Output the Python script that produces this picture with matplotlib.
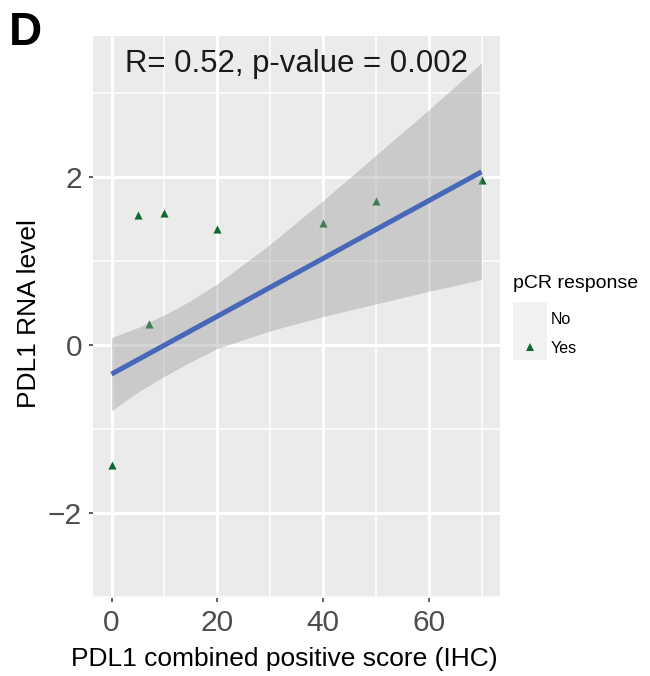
import numpy as np
import matplotlib
matplotlib.use("Agg")
import matplotlib.pyplot as plt
from matplotlib.patches import Rectangle
from matplotlib.lines import Line2D

plt.rcParams["font.family"] = ["Liberation Sans", "DejaVu Sans"]

# visible "Yes" samples (the "No" group is drawn without a symbol)
cps_yes = [0, 5, 7, 10, 20, 40, 50, 70]
rna_yes = [-1.43, 1.55, 0.25, 1.57, 1.38, 1.45, 1.71, 1.96]

# fitted line and its 95% band
fit_x = [0, 70]
fit_y = [-0.345, 2.063]
band_x = [0, 5, 10, 15, 20, 30, 40, 50, 60, 70]
band_lo = [-0.78, -0.56, -0.37, -0.20, -0.04, 0.17, 0.34, 0.49, 0.64, 0.78]
band_hi = [0.09, 0.21, 0.36, 0.53, 0.73, 1.20, 1.72, 2.26, 2.80, 3.36]

xticks = [0, 20, 40, 60]
yticks = [-2, 0, 2]
annot = "R= 0.52, p-value = 0.002"

W, H = 650, 676
fig = plt.figure(figsize=(W / 100, H / 100), dpi=100)

def fx(px): return px / W
def fy(py): return 1 - py / H

# panel in pixels: left 93, right 500, top 36, bottom 598
ax = fig.add_axes([fx(93), fy(598), (500 - 93) / W, (598 - 36) / H])
ax.set_facecolor("#EBEBEB")
for s in ax.spines.values():
    s.set_visible(False)

ax.set_xlim(-3.5, 73.5)
ax.set_ylim(-3.01, 3.68)
ax.set_xticks(xticks)
ax.set_yticks(yticks)
ax.set_xticks([10, 30, 50, 70], minor=True)
ax.set_yticks([-3, -1, 1, 3], minor=True)
ax.set_yticklabels(["\u22122", "0", "2"])
ax.grid(which="major", color="white", lw=2.2, zorder=0)
ax.grid(which="minor", color="white", lw=1.1, zorder=0)
ax.set_axisbelow(True)
ax.tick_params(which="major", length=3, width=1.1, color="#333333",
               labelsize=21.5, labelcolor="#4D4D4D", pad=5)
ax.tick_params(which="minor", length=0)

ax.scatter(cps_yes, rna_yes, marker="^", s=34, color="#0D6A2F",
           linewidths=0, zorder=2)
ax.fill_between(band_x, band_lo, band_hi, color="#999999", alpha=0.4,
                linewidth=0, zorder=3)
ax.plot(fit_x, fit_y, color="#4767B9", lw=3.6, solid_capstyle="butt", zorder=4)

ax.text(35, 3.25, annot, ha="center", va="baseline", fontsize=22.4,
        color="#1A1A1A", zorder=5)

fig.text(fx(284), fy(666), "PDL1 combined positive score (IHC)",
         ha="center", va="baseline", fontsize=19, color="black")
fig.text(fx(41), fy(314), "PDL1 RNA level", rotation=90,
         ha="right", va="center", fontsize=19, color="black")
fig.text(fx(9), fy(45), "D", ha="left", va="baseline", fontsize=33,
         fontweight="bold", color="black")

# legend
fig.text(fx(513), fy(288), "pCR response", ha="left", va="baseline",
         fontsize=14, color="black")
for i, (lab, show) in enumerate([("No", False), ("Yes", True)]):
    top = 302 + i * 29
    fig.add_artist(Rectangle((fx(513), fy(top + 29)), 34 / W, 29 / H,
                             transform=fig.transFigure, facecolor="#F2F2F3",
                             edgecolor="none"))
    if show:
        fig.add_artist(Line2D([fx(530)], [fy(top + 16)], marker="^",
                              markersize=5.8, color="#0D6A2F", lw=0,
                              markeredgewidth=0, transform=fig.transFigure))
    fig.text(fx(551), fy(top + 22), lab, ha="left", va="baseline",
             fontsize=11.5, color="black")

fig.savefig("out.png", dpi=100)
